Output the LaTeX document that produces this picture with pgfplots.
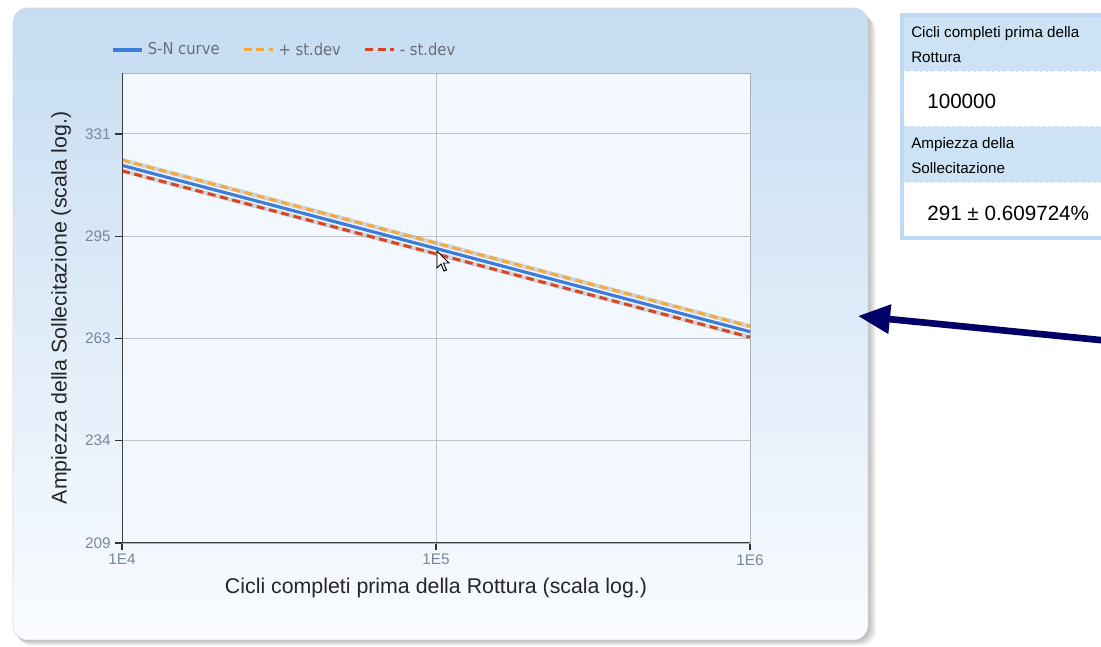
\documentclass[border=0pt]{standalone}
\usepackage{pgfplots}
\pgfplotsset{compat=1.18}
\usepackage{fontspec}
\setmainfont{Liberation Sans}
\newfontfamily\legfont[FakeStretch=0.9]{DejaVu Sans}
\usetikzlibrary{arrows.meta}

\definecolor{snblue}{RGB}{60,125,220}
\definecolor{snorange}{RGB}{245,170,60}
\definecolor{snred}{RGB}{218,68,30}
\definecolor{plotbg}{RGB}{243,248,254}
\definecolor{paneltop}{RGB}{197,220,242}
\definecolor{panelbot}{RGB}{250,252,255}
\definecolor{tickgray}{RGB}{120,135,155}
\definecolor{leggray}{RGB}{105,110,118}
\definecolor{gridgray}{RGB}{190,195,202}
\definecolor{boxblue}{RGB}{190,218,245}
\definecolor{headblue}{RGB}{205,226,245}
\definecolor{navy}{RGB}{0,0,102}

\begin{document}
\begin{tikzpicture}
\useasboundingbox (0pt,0pt) rectangle (825.75pt,485.25pt);
\begin{scope}[x=0.75pt,y=0.75pt]
% chart panel with shadow
\foreach \i in {1,...,7} {
  \fill[black, opacity=0.045, rounded corners=11pt] (13+\i*0.6,7-\i*0.8) rectangle (868+\i*1.1,639-\i*1.2);
}
\shade[top color=paneltop, bottom color=panelbot, rounded corners=11pt, draw=black!15]
  (13,7) rectangle (868,639);
\end{scope}

% S-N plot
\begin{axis}[
  at={(91.5pt,78pt)}, anchor=south west,
  scale only axis, width=471pt, height=352.5pt,
  xmode=log, ymode=log,
  xmin=1e4, xmax=1e6, ymin=209, ymax=354.5,
  xtick={1e4,1e5,1e6}, xticklabels={1E4,1E5,1E6},
  ytick={209,234.5,263,295,331}, yticklabels={209,234,263,295,331},
  xminorticks=false, yminorticks=false,
  xmajorgrids, ymajorgrids, grid style={gridgray, line width=0.75pt},
  tick align=outside, tick pos=left, major tick length=5pt,
  tick style={black!80, line width=0.9pt},
  axis line style={draw=black!30},
  axis background/.style={fill=plotbg},
  ticklabel style={font=\fontsize{11.5}{13}\selectfont, text=tickgray},
  /pgf/number format/assume math mode=true,
  xlabel={Cicli completi prima della Rottura (scala log.)},
  ylabel={Ampiezza della Sollecitazione (scala log.)},
  label style={font=\fontsize{16}{18}\selectfont, text=black!85},
  xlabel style={at={(axis description cs:0.5,-0.096)}, anchor=center},
  ylabel style={at={(axis description cs:-0.097,0.5)}, anchor=center},
  legend style={at={(axis description cs:-0.0175,1.049)}, anchor=west,
    draw=none, fill=none, font=\legfont\fontsize{12.3}{14}\selectfont,
    text=leggray, inner sep=0pt,
    /tikz/every odd column/.append style={column sep=1pt},
    /tikz/every even column/.append style={column sep=15pt}},
  legend columns=3,
  legend image code/.code={\draw[#1] (0pt,0pt) -- (22pt,0pt);},
]
% soft halo under the dashed lines
\addplot[black!50, opacity=0.3, line width=3.2pt, forget plot] coordinates {(1e4,321.45) (1e5,292.77) (1e6,266.62)};
\addplot[black!50, opacity=0.3, line width=3.2pt, forget plot] coordinates {(1e4,317.55) (1e5,289.23) (1e6,263.38)};

\addplot[snblue, line width=2.4pt] coordinates {(1e4,319.5) (1e5,291.0) (1e6,265.0)};
\addplot[snorange, line width=2.2pt, dash pattern=on 6pt off 3.5pt] coordinates {(1e4,321.45) (1e5,292.77) (1e6,266.62)};
\addplot[snred, line width=2.2pt, dash pattern=on 6pt off 3.5pt] coordinates {(1e4,317.55) (1e5,289.23) (1e6,263.38)};
\legend{S-N curve, + st.dev, - st.dev}

\draw[black!75, line width=1pt] (rel axis cs:0,1) -- (rel axis cs:0,0) -- (rel axis cs:1,0);
\end{axis}

\begin{scope}[x=0.75pt,y=0.75pt]
% mouse cursor
\begin{scope}[shift={(437,396)}]
  \draw[fill=white, line width=0.7pt, line join=miter]
    (0,0) -- (0,-17) -- (4,-13) -- (7,-20) -- (9.5,-19) -- (6.5,-12) -- (12,-12) -- cycle;
\end{scope}

% result panel on the right
\fill[boxblue] (900,407) rectangle (1105,634);
\fill[headblue] (904,575) rectangle (1105,630);
\fill[white] (904,520) rectangle (1105,575);
\fill[headblue] (904,464) rectangle (1105,520);
\fill[white] (904,411) rectangle (1105,464);
\draw[white, line width=1pt, dash pattern=on 3pt off 1.5pt] (904,575) -- (1105,575);
\draw[headblue, line width=1pt, dash pattern=on 3pt off 1.5pt] (904,520) -- (1105,520);
\draw[white, line width=1pt, dash pattern=on 3pt off 1.5pt] (904,464) -- (1105,464);

\node[anchor=west, inner sep=0pt, font=\fontsize{11.4}{13}\selectfont] at (911,613) {Cicli completi prima della};
\node[anchor=west, inner sep=0pt, font=\fontsize{11.4}{13}\selectfont] at (911,590) {Rottura};
\node[anchor=west, inner sep=0pt, font=\fontsize{15.5}{18}\selectfont] at (927,546) {100000};
\node[anchor=west, inner sep=0pt, font=\fontsize{11.4}{13}\selectfont] at (911,502) {Ampiezza della};
\node[anchor=west, inner sep=0pt, font=\fontsize{11.4}{13}\selectfont] at (911,479) {Sollecitazione};
\node[anchor=west, inner sep=0pt, font=\fontsize{15.5}{18}\selectfont] at (927,434) {291 ± 0.609724\%};

% pointer arrow
\draw[navy, line width=5pt, -{Triangle[length=24pt, width=21pt]}] (1110,306) -- (858,331);
\end{scope}
\end{tikzpicture}
\end{document}
